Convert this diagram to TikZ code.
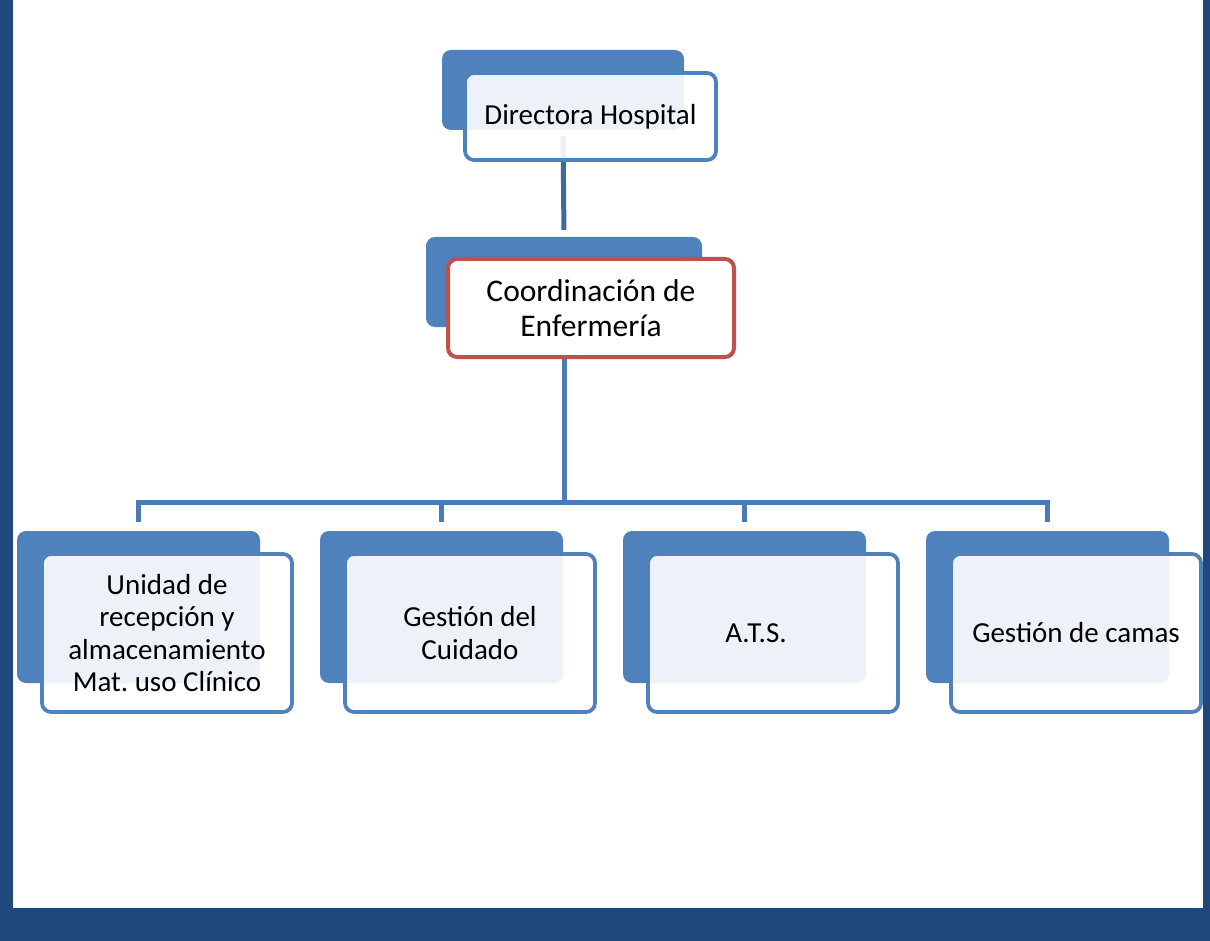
\documentclass[tikz,border=0pt]{standalone}
\usepackage{fontspec}
\setmainfont{Carlito}
\usepackage{xcolor}
\usetikzlibrary{positioning,calc}
\frenchspacing

\definecolor{boxblue}{HTML}{4F81BD}
\definecolor{linkblue}{HTML}{4A7BB5}
\definecolor{framblue}{HTML}{1F497D}
\definecolor{boxred}{HTML}{C0504D}

\begin{document}
\begin{tikzpicture}[
    x=1pt, y=-1pt,
    backbox/.style={fill=boxblue, rounded corners=9pt, inner sep=0pt},
    frontbox/.style={draw=boxblue, line width=3.8pt, fill=white, fill opacity=0.9, text opacity=1,
        rounded corners=9pt, align=center, font=\fontsize{29}{32.5}\selectfont},
    conn/.style={draw=linkblue, line width=5pt}
]
\useasboundingbox (0,0) rectangle (1210,941);

% frame
\fill[framblue] (0,0) rectangle (13,941);
\fill[framblue] (1203,0) rectangle (1210,941);
\fill[framblue] (0,908) rectangle (1210,941);

% back boxes
\node[backbox, minimum width=242pt, minimum height=80pt] (dirback) at (563,90) {};
\node[backbox, minimum width=276pt, minimum height=90pt] (coordback) at (564,282) {};
\foreach \i in {1,...,4}
    \node[backbox, minimum width=243pt, minimum height=152pt] (kid\i back) at ({138.5+303*(\i-1)},607) {};

% connectors
\draw[conn, draw=linkblue!85!black, shorten <=6pt, shorten >=7pt] (dirback.south) -- (coordback.north);
\coordinate (bus) at (564,502);
\foreach \i in {1,...,4}
    \draw[conn, shorten >=9pt] (coordback.south) -- (bus) -| (kid\i back.north);

% front boxes
\node[frontbox, minimum width=251pt, minimum height=87pt] (dir) at (590.5,116.5) {Directora Hospital};
\node[frontbox, draw=boxred, line width=4pt, fill opacity=1, minimum width=286pt, minimum height=98pt,
    font=\fontsize{31.5}{35}\selectfont] (coord) at (591,308) {Coordinación de\\Enfermería};
\node[frontbox, minimum width=250pt, minimum height=158pt] (kid1) at (167,633)
    {Unidad de\\recepción y\\almacenamiento\\Mat. uso Clínico};
\node[frontbox, minimum width=250pt, minimum height=158pt] (kid2) at (470,633)
    {Gestión del\\Cuidado};
\node[frontbox, minimum width=250pt, minimum height=158pt] (kid3) at (773,633) {};
\node at ($(kid3)+(-17,0)$) [font=\fontsize{29}{32.5}\selectfont] {A.T.S.};
\node[frontbox, minimum width=250pt, minimum height=158pt] (kid4) at (1076,633)
    {Gestión de camas};
\end{tikzpicture}
\end{document}
